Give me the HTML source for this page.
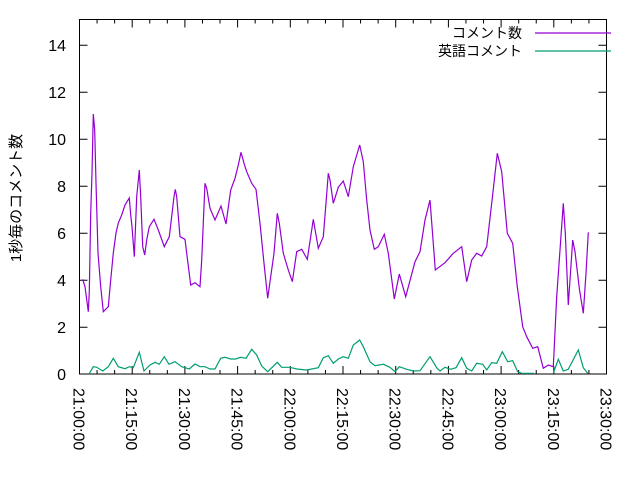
<!DOCTYPE html>
<html><head><meta charset="utf-8"><style>
body{margin:0;background:#fff}
svg{display:block;font-family:"Liberation Sans","Noto Sans CJK JP",sans-serif}
</style></head><body>
<svg width="640" height="480" viewBox="0 0 640 480">
<g stroke="#000" stroke-width="1" fill="none">
<rect x="79.5" y="19.5" width="527" height="354.5"/>
<path d="M79.5 374h8M79.5 327.3h8M79.5 280.3h8M79.5 233.3h8M79.5 186.3h8M79.5 139.3h8M79.5 92.3h8M79.5 45.3h8
M606.5 327.3h-8M606.5 280.3h-8M606.5 233.3h-8M606.5 186.3h-8M606.5 139.3h-8M606.5 92.3h-8M606.5 45.3h-8"/>
</g>
<g id="ticks" stroke="#000" stroke-width="1"></g>
<g font-size="16" text-anchor="end" fill="#000">
<text x="66" y="380">0</text><text x="66" y="333">2</text><text x="66" y="286">4</text><text x="66" y="239">6</text><text x="66" y="192">8</text><text x="66" y="145">10</text><text x="66" y="98">12</text><text x="66" y="51">14</text>
</g>
<text font-size="15" transform="translate(21,198) rotate(-90)" text-anchor="middle">1秒毎のコメント数</text>
<g font-size="16" fill="#000" id="xl"></g>
<text x="522" y="38" font-size="14" text-anchor="end">コメント数</text>
<line x1="535" y1="33" x2="611" y2="33" stroke="#9400d3" stroke-width="1.3"/>
<text x="522" y="56" font-size="14" text-anchor="end">英語コメント</text>
<line x1="535" y1="51" x2="611" y2="51" stroke="#009e73" stroke-width="1.3"/>
<polyline fill="none" stroke="#9400d3" stroke-width="1.2" points="82.7,279.3 85,286.7 88.3,311.7 89.3,291.7 90.7,213.3 92,173 93.3,114 94.7,130 96,183 98,253 100.7,286.7 103.3,311.7 108.3,306.7 110.7,280 113.3,253 116,233 118.3,223 121.7,215 125,205 129.3,198 130.7,215 132,226.7 134.3,256.7 136.7,196.7 139.3,170 140.7,196.7 142.7,246.7 144.7,255 146.7,240 149.3,226.7 154,219.3 158.3,230 164.3,246.7 169.3,236.7 174,196.7 175.3,189.3 176.7,196.7 180,236.7 185,239.3 186.7,253.3 190.7,285 195,282.7 200,286.7 201.7,260 205,183.3 206.7,188.3 210,208.3 215,220 221,206 226,224 230.7,190 235,178.3 238.3,165 241,152.3 244,163.3 246.7,171.7 251.7,183.3 256,189.3 260,223.3 264,263.3 267.7,298.3 270,281.7 274,253.3 277.3,213.3 279.3,223.3 283.3,253.3 288.3,270 292.3,281.7 296.7,251.7 301.7,249.3 307.3,259.3 313.3,219.3 318.3,248.3 323.3,236.7 325.7,206.7 328.3,173.3 330,180 333.3,203.3 338.3,187.3 343.3,181 348.3,196.7 353.3,166.7 359.7,145 363.3,161.7 366.7,200 370,230 374.3,249.3 378.3,246.7 384.3,234.3 388.3,253.3 394.3,299 399.3,274 405.7,296.7 415,261.7 420,251.7 425,220 430,200 435.3,270 445,262.7 453.3,253.3 461.7,246.7 466.7,281.7 471.7,260 476.7,253.3 481.7,256 486.7,246.7 491.7,203.3 497.3,153.3 501.7,171.7 507.3,233.3 512.7,243.3 517.3,286.7 522.7,326.7 526.7,336.7 532.7,348.3 537.7,346.7 543.3,368.3 548.3,365 553.3,366.7 556.7,296.7 563.3,203.3 565.3,233.3 568.3,305 572.7,240 575,251.7 579.3,288.3 583.3,313.3 586,273.3 588.3,232.3"/>
<polyline fill="none" stroke="#009e73" stroke-width="1.2" points="89,374 93.3,366.7 96.7,367.3 102.7,371 108.3,366.7 113.3,358.3 118.3,366.7 125,368.7 129.3,366.7 133.3,367.7 139.3,352.3 144,371 150,365 155,362.3 159.3,364.3 164.3,356.7 169,364.3 175,361.7 181.7,366.7 189.3,369 195,364 200,366.7 205,366.7 210,369 215,369 220.7,358.3 225,357.3 230.7,359 235.7,359 240.7,357.3 246,358.3 251.7,349.3 256.7,355 261.7,366 267.7,371.7 277.3,362.3 281.7,367.3 290,367.3 296.7,369 306.7,370 318.3,367.7 323.3,357.7 328.3,355.7 333.3,363.3 338.3,359 343.3,356.7 348.3,358.3 353.3,345 359.7,340 363.3,346.7 370,361.7 375,365.7 383.3,364.3 390,367.3 395,371.7 399.3,366.7 406.7,369.3 413.3,371 420,370.7 430,356.7 436.7,367.7 440,371 445,367.3 450.7,369.3 456,367.7 461.7,357.7 466.7,368.3 471.7,371 476.7,363.3 482.7,364.3 486.7,370 491.7,362.7 496.7,363.3 502.3,351.7 507.7,361.7 512.7,360.7 517.7,371.7 521.7,373.3 534,373.3"/>
<polyline fill="none" stroke="#009e73" stroke-width="1.2" points="553.3,373.3 558.3,359.3 563.3,371 568.3,369.3 578.3,350 583.3,367.7 587.7,373.3"/>
</svg>
<script>
var t=document.getElementById('ticks'),xl=document.getElementById('xl');
var labs=['21:00:00','21:15:00','21:30:00','21:45:00','22:00:00','22:15:00','22:30:00','22:45:00','23:00:00','23:15:00','23:30:00'];
var d='';
for(var i=0;i<=30;i++){var x=79.5+i*527/30;var L=(i%3==0)?8:4;
d+='M'+x+' 374v-'+L+'M'+x+' 19.5v'+L;}
var p=document.createElementNS('http://www.w3.org/2000/svg','path');p.setAttribute('d',d);t.appendChild(p);
for(var i=0;i<11;i++){var x=79.5+i*52.7-6;var e=document.createElementNS('http://www.w3.org/2000/svg','text');
e.setAttribute('transform','translate('+x+',388) rotate(90)');e.textContent=labs[i];xl.appendChild(e);}
</script>
</body></html>
